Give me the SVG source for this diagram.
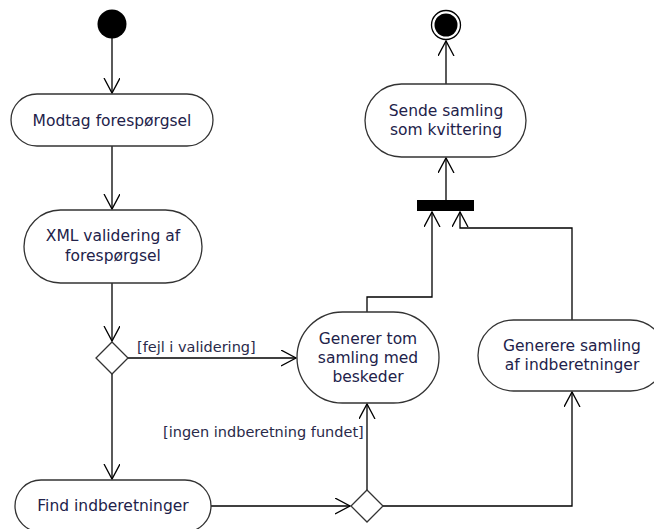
<svg xmlns="http://www.w3.org/2000/svg" width="654" height="529" viewBox="0 0 654 529">
<style>
.n{fill:#fff;stroke:#333;stroke-width:1.3}
.t{font-family:"DejaVu Sans",Verdana,sans-serif;font-size:15.5px;fill:#22224a;text-anchor:middle}
.l{font-family:"DejaVu Sans",Verdana,sans-serif;font-size:14.5px;fill:#2a2a4a}
.c{fill:none;stroke:#000;stroke-width:1.3}
</style>
<defs>
<marker id="a" markerWidth="18" markerHeight="18" refX="15" refY="8" orient="auto" markerUnits="userSpaceOnUse">
<path d="M0,0 L15,8 L0,16" fill="none" stroke="#000" stroke-width="1.3"/>
</marker>
</defs>
<rect width="654" height="529" fill="#fff"/>
<g id="connectors">
<path class="c" d="M112,38 L112,93" marker-end="url(#a)"/>
<path class="c" d="M112,146 L112,209" marker-end="url(#a)"/>
<path class="c" d="M112,283 L112,341" marker-end="url(#a)"/>
<path class="c" d="M128,358 L296,358" marker-end="url(#a)"/>
<path class="c" d="M112,374 L112,479" marker-end="url(#a)"/>
<path class="c" d="M211,506 L350,506" marker-end="url(#a)"/>
<path class="c" d="M367,490 L367,404" marker-end="url(#a)"/>
<path class="c" d="M383,506 L572,506 L572,392" marker-end="url(#a)"/>
<path class="c" d="M367,312 L367,297 L432,297 L432,212" marker-end="url(#a)"/>
<path class="c" d="M572,320 L572,228 L460,228 L460,212" marker-end="url(#a)"/>
<path class="c" d="M446,200 L446,158" marker-end="url(#a)"/>
<path class="c" d="M446,84 L446,41" marker-end="url(#a)"/>
<text class="l" x="137" y="352">[fejl i validering]</text>
<text class="l" x="163" y="437">[ingen indberetning fundet]</text>
</g>
<g id="start"><circle cx="112" cy="24" r="14.5" fill="#000"/></g>
<g id="end"><circle cx="446" cy="25" r="14.5" fill="#fff" stroke="#000" stroke-width="1.3"/><circle cx="446" cy="25" r="11.5" fill="#000"/></g>
<g id="modtag"><rect class="n" x="11" y="94" width="202" height="52" rx="26"/><text class="t" x="112" y="126">Modtag forespørgsel</text></g>
<g id="xml"><rect class="n" x="24" y="210" width="178" height="73" rx="36.5"/><text class="t" x="113" y="241">XML validering af</text><text class="t" x="113" y="261">forespørgsel</text></g>
<g id="decision1"><path class="n" d="M112,342 L128,358 L112,374 L96,358 Z"/></g>
<g id="generertom"><rect class="n" x="297" y="312" width="142" height="91" rx="45.5"/><text class="t" x="368" y="344">Generer tom</text><text class="t" x="368" y="363">samling med</text><text class="t" x="368" y="382">beskeder</text></g>
<g id="find"><rect class="n" x="15" y="480" width="196" height="52" rx="26"/><text class="t" x="113" y="511">Find indberetninger</text></g>
<g id="decision2"><path class="n" d="M367,490 L383,506 L367,522 L351,506 Z"/></g>
<g id="generere"><rect class="n" x="478" y="320" width="188" height="71" rx="35.5"/><text class="t" x="572" y="351">Generere samling</text><text class="t" x="572" y="370">af indberetninger</text></g>
<g id="bar"><rect x="417" y="200" width="57" height="11" fill="#000"/></g>
<g id="sende"><rect class="n" x="365" y="84" width="161" height="73" rx="36.5"/><text class="t" x="446" y="116">Sende samling</text><text class="t" x="446" y="135">som kvittering</text></g>
</svg>
